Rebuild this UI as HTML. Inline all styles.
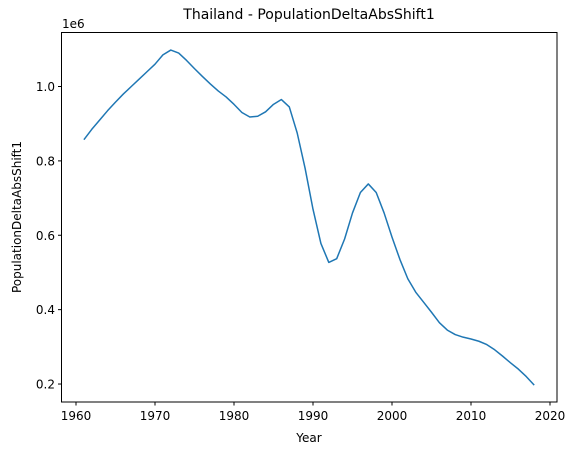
<!DOCTYPE html>
<html><head><meta charset="utf-8"><style>
body{margin:0;background:#fff;}
svg text{font-family:"DejaVu Sans","Liberation Sans",sans-serif;fill:#000;}
</style></head><body>
<svg id="chart" width="578" height="455" viewBox="0 0 578 455" xmlns="http://www.w3.org/2000/svg">
<rect width="578" height="455" fill="#fff"/>
<text x="309" y="19" font-size="14" text-anchor="middle">Thailand - PopulationDeltaAbsShift1</text>
<g id="axes"></g>
<rect x="61.5" y="32.5" width="495.5" height="369.5" fill="none" stroke="#000" stroke-width="1"/>
<text x="309" y="442" font-size="12" text-anchor="middle">Year</text>
<text transform="translate(21,217) rotate(-90)" font-size="12" text-anchor="middle">PopulationDeltaAbsShift1</text>
<text x="62" y="28" font-size="12">1e6</text>
</svg>
<script>
const years=[];for(let y=1961;y<=2018;y++)years.push(y);
const values=[0.857,0.885,0.91,0.935,0.958,0.98,1.0,1.02,1.04,1.06,1.085,1.098,1.09,1.07,1.048,1.027,1.007,0.988,0.972,0.952,0.930,0.918,0.92,0.932,0.952,0.965,0.945,0.875,0.78,0.67,0.578,0.527,0.537,0.59,0.66,0.715,0.738,0.715,0.66,0.595,0.535,0.483,0.447,0.42,0.393,0.365,0.345,0.333,0.326,0.321,0.315,0.306,0.292,0.275,0.257,0.24,0.22,0.197];
const xTicks=[1960,1970,1980,1990,2000,2010,2020];
const yTicks=[0.2,0.4,0.6,0.8,1.0];
const NS='http://www.w3.org/2000/svg';
const X=v=>76+(v-1960)*7.9;
const Y=v=>86.5+(1.0-v)*371.9;
const g=document.getElementById('axes');
function mk(t,a){const e=document.createElementNS(NS,t);for(const k in a)e.setAttribute(k,a[k]);g.appendChild(e);return e;}
xTicks.forEach(t=>{
  const l=mk('line',{x1:X(t),x2:X(t),y1:402,y2:405.5,stroke:'#000'});
  
  
  const tx=mk('text',{x:X(t),y:420,'font-size':12,'text-anchor':'middle'});tx.textContent=t;
  
  
});
yTicks.forEach(t=>{
  const l=mk('line',{x1:58,x2:61.5,y1:Y(t),y2:Y(t),stroke:'#000'});
  
  
  const tx=mk('text',{x:55,y:Y(t)+4.5,'font-size':12,'text-anchor':'end'});tx.textContent=t.toFixed(1);
  
  
});
const p=mk('polyline',{points:years.map((y,i)=>X(y)+','+Y(values[i])).join(' '),fill:'none',stroke:'#1f77b4','stroke-width':1.5,'stroke-linejoin':'round'});


</script>
</body></html>
